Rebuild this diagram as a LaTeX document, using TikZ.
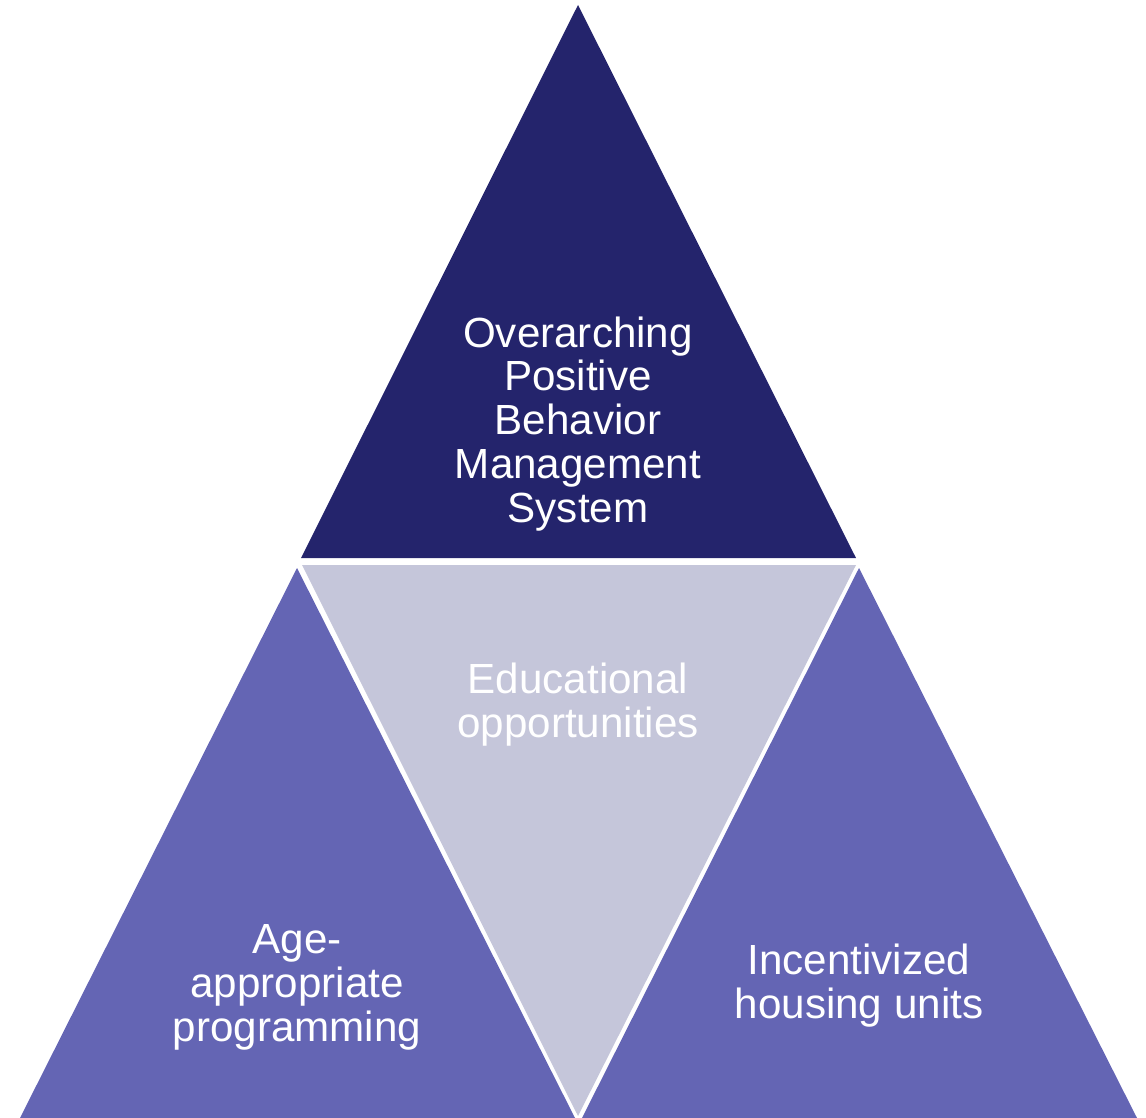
\documentclass[tikz,border=0pt]{standalone}
\usepackage{fontspec}
\setmainfont{Liberation Sans}
\definecolor{navy}{RGB}{36,36,108}
\definecolor{lavender}{RGB}{197,198,218}
\definecolor{violet}{RGB}{100,101,180}
\begin{document}
\begin{tikzpicture}[x=0.02cm, y=-0.02cm,
    label text/.style={text=white, align=center, font=\fontsize{24}{25}\selectfont, inner sep=0pt}]
        \useasboundingbox (0,0) rectangle (1146,1118);

        % Tam giác trên
        \fill[navy] (578,5) -- (856,558) -- (301,558) -- cycle;
        % Tam giác giữa (ngược)
        \fill[lavender] (302,565) -- (856,565) -- (578,1116) -- cycle;
        % Tam giác trái và phải
        \fill[violet] (297,568) -- (575,1118) -- (20,1118) -- cycle;
        \fill[violet] (859,568) -- (1137,1118) -- (582,1118) -- cycle;

        % Chữ
        \node[label text] (system) at (578,424) {Overarching\\Positive\\Behavior\\Management\\System};
        \node[label text] (edu) at (578,705) {Educational\\opportunities};
        \node[label text] (age) at (297,987) {Age-\\appropriate\\programming};
        \node[label text] (housing) at (859,986) {Incentivized\\housing units};
    \end{tikzpicture}
\end{document}
